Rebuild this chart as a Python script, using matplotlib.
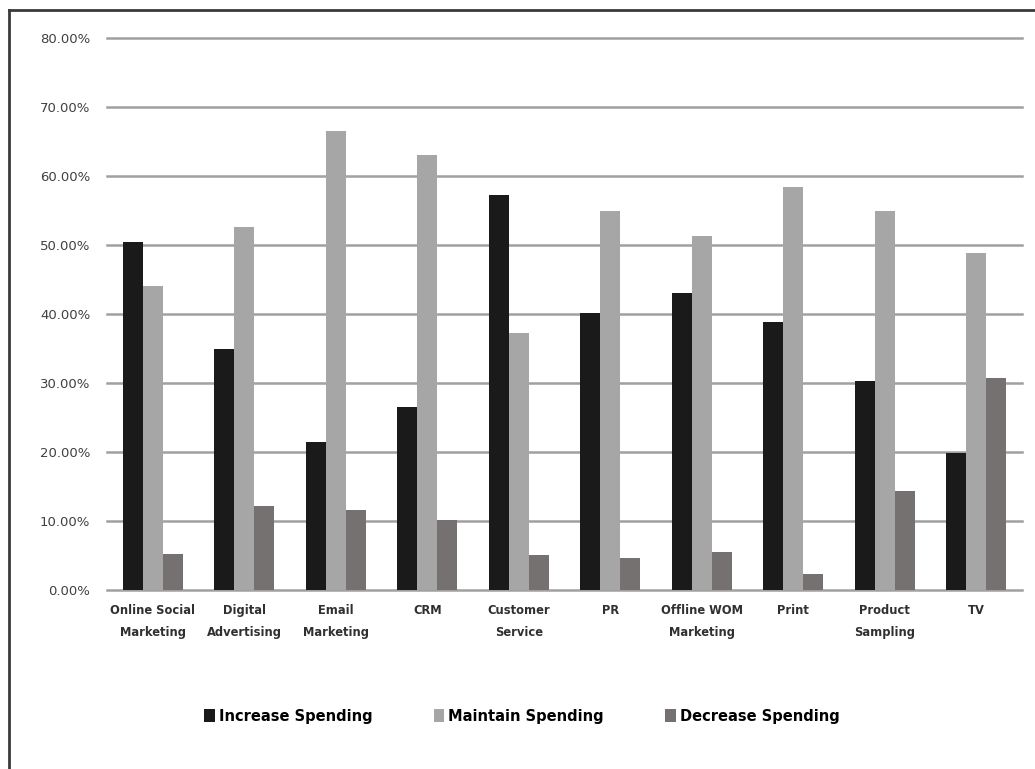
import matplotlib
matplotlib.use("Agg")
import matplotlib.pyplot as plt
import numpy as np
from matplotlib.lines import Line2D
from matplotlib.ticker import FuncFormatter

categories = [
    "Online Social\nMarketing", "Digital\nAdvertising", "Email\nMarketing", "CRM",
    "Customer\nService", "PR", "Offline WOM\nMarketing", "Print",
    "Product\nSampling", "TV",
]
increase = [50.5, 35.0, 21.4, 26.5, 57.3, 40.1, 43.0, 38.8, 30.3, 19.8]
maintain = [44.0, 52.6, 66.5, 63.1, 37.2, 55.0, 51.3, 58.4, 54.9, 48.8]
decrease = [5.2, 12.2, 11.6, 10.1, 5.1, 4.6, 5.5, 2.3, 14.4, 30.7]
series_names = ["Increase Spending", "Maintain Spending", "Decrease Spending"]
y_ticks = [0, 10, 20, 30, 40, 50, 60, 70, 80]

colors = ["#1a1a1a", "#a6a6a6", "#767171"]
plt.rcParams["font.family"] = ["DejaVu Sans"]

fig = plt.figure(figsize=(10.35, 7.69), dpi=100)
ax = fig.add_axes([107 / 1035, 1 - 590 / 769, (1022 - 107) / 1035, (590 - 38) / 769])

x = np.arange(len(categories))
w = 0.22
for i, (vals, name) in enumerate(zip([increase, maintain, decrease], series_names)):
    ax.bar(x + (i - 1) * w, vals, width=w, color=colors[i], label=name, zorder=3)

ax.set_xlim(-0.5, len(categories) - 0.5)
ax.set_ylim(0, 80)
ax.set_yticks(y_ticks)
ax.yaxis.set_major_formatter(FuncFormatter(lambda v, _: f"{v:.2f}%"))
ax.grid(axis="y", color="#a0a0a0", linewidth=1.8, zorder=0)
# keep the top gridline from being clipped in half
for gl in ax.get_ygridlines():
    gl.set_clip_on(False)
for s in ax.spines.values():
    s.set_visible(False)
ax.tick_params(axis="y", length=0, pad=12, labelsize=9.5, labelcolor="#404040")
ax.set_xticks(x)
ax.set_xticklabels(categories, fontsize=8.3, fontweight="bold", color="#303030",
                   linespacing=1.9)
ax.tick_params(axis="x", length=0, pad=10)

# outer frame (left and top edges of a cropped box)
fig.add_artist(Line2D([9 / 1035, 9 / 1035], [0, 1 - 10 / 769],
                      transform=fig.transFigure, color="#3a3a3a", linewidth=2))
fig.add_artist(Line2D([9 / 1035, 1], [1 - 10 / 769, 1 - 10 / 769],
                      transform=fig.transFigure, color="#3a3a3a", linewidth=2))

fig.legend(loc="center", bbox_to_anchor=(522 / 1035, 1 - 716 / 769), ncol=3,
           frameon=False, handlelength=0.7, handleheight=0.9, handletextpad=0.3,
           columnspacing=4.2, prop={"size": 10.5, "weight": "bold"})

fig.savefig("out.png", dpi=100)
